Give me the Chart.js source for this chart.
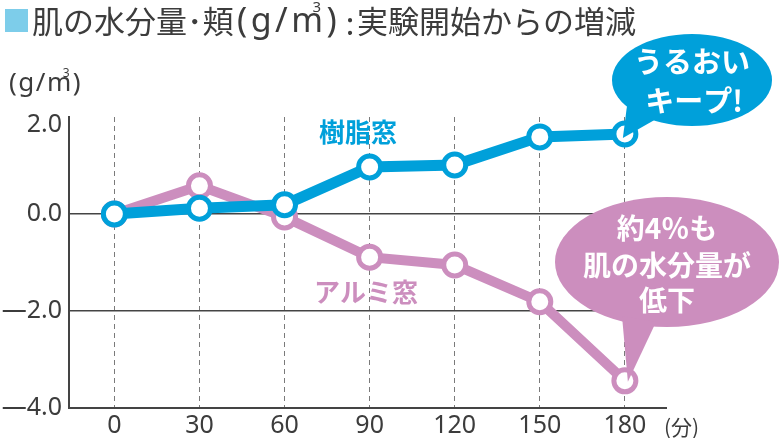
<!DOCTYPE html>
<html>
<head>
<meta charset="utf-8">
<script src="https://cdn.jsdelivr.net/npm/chart.js@4"></script>
<style>
  html, body { margin: 0; padding: 0; background: #fff; }
  canvas { display: block; }
</style>
</head>
<body>
<canvas id="chart" width="780" height="438"></canvas>
<script>
// minutes since start
const minutes = [0, 30, 60, 90, 120, 150, 180];
// change in skin moisture, g/m3
const resinWindow = [0, 0.12, 0.19, 0.97, 1.01, 1.59, 1.65];
const aluminumWindow = [0, 0.58, -0.06, -0.89, -1.05, -1.81, -3.44];
const yTicks = [2, 0, -2, -4];

const BLUE = '#00a0da';
const PINK = '#cc8ebe';
const TEXT = '#3c3c3c';
const JP = '"Noto Sans CJK JP", "Noto Sans", sans-serif';
const LATIN = '"Noto Sans", sans-serif';

// "(g/m" + small 3 over the m + ")" ; returns end x
function unit(ctx, x, y, size, spacing) {
    ctx.save();
    ctx.textAlign = 'left';
    ctx.font = size + 'px ' + LATIN;
    ctx.letterSpacing = spacing + 'px';
    ctx.fillText('(g/m', x, y);
    let cx = x + ctx.measureText('(g/m').width;
    ctx.fillText(')', cx, y);
    const end = cx + ctx.measureText(')').width;
    ctx.letterSpacing = '0px';
    const small = Math.round(size * 0.45);
    ctx.font = small + 'px ' + LATIN;
    ctx.fillText('3', cx - spacing - small * 0.7, y - size * 0.42);
    ctx.restore();
    return end;
}

function bubble(ctx, cx, cy, rx, ry, b1, b2, tip, color) {
    ctx.save();
    ctx.fillStyle = color;
    ctx.beginPath();
    ctx.ellipse(cx, cy, rx, ry, 0, 0, Math.PI * 2);
    ctx.fill();
    ctx.beginPath();
    ctx.moveTo(b1[0], b1[1]);
    ctx.lineTo(tip[0], tip[1]);
    ctx.lineTo(b2[0], b2[1]);
    ctx.closePath();
    ctx.fill();
    ctx.restore();
}

const decor = {
    id: 'decor',
    afterDraw(chart) {
        const ctx = chart.ctx;
        const xs = chart.scales.x, ys = chart.scales.y;
        ctx.save();
        ctx.textBaseline = 'middle';

        // title
        ctx.fillStyle = '#7dcdea';
        ctx.fillRect(5, 9, 23, 23);
        ctx.fillStyle = TEXT;
        ctx.font = '31px ' + JP;
        ctx.textAlign = 'left';
        ctx.fillText('肌の水分量･頬', 32, 21);
        unit(ctx, 237, 22, 34, 3.5);
        ctx.font = '31px ' + JP;
        ctx.textAlign = 'center';
        ctx.fillText(':', 350, 23);
        ctx.textAlign = 'left';
        ctx.fillText('実験開始からの増減', 357, 21);

        // y unit
        unit(ctx, 9, 84, 26, 1.5);

        // x unit
        ctx.font = '21px ' + JP;
        ctx.textAlign = 'left';
        ctx.fillText('(分)', 664, 427);

        // series labels
        ctx.font = 'bold 26px ' + JP;
        ctx.textAlign = 'center';
        ctx.fillStyle = BLUE;
        ctx.fillText('樹脂窓', 358, 132);
        ctx.fillStyle = PINK;
        ctx.fillText('アルミ窓', 366, 292);

        // bubbles, tails anchored on the last points
        const last = minutes.length - 1;
        const px = xs.getPixelForValue(minutes[last]);
        const pb = ys.getPixelForValue(resinWindow[last]);
        const pp = ys.getPixelForValue(aluminumWindow[last]);

        bubble(ctx, 692, 80, 80, 46, [628, 98], [658, 118], [px - 2, pb + 4], BLUE);
        ctx.fillStyle = '#fff';
        ctx.font = 'bold 29px ' + JP;
        ctx.fillText('うるおい', 692, 62);
        ctx.fillText('キープ!', 694, 101);

        bubble(ctx, 667, 262, 112, 65, [622, 316], [656, 322], [px + 3, pp + 1], PINK);
        ctx.fillStyle = '#fff';
        ctx.font = 'bold 28px ' + JP;
        ctx.fillText('約4％も', 667, 228);
        ctx.fillText('肌の水分量が', 667, 265);
        ctx.fillText('低下', 667, 300);
        ctx.restore();
    }
};

const fmt = v => (v < 0 ? '\u2014' + Math.abs(v).toFixed(1) : v.toFixed(1));

new Chart(document.getElementById('chart'), {
    type: 'line',
    data: {
        datasets: [
            {
                label: '樹脂窓',
                data: minutes.map((m, i) => ({ x: m, y: resinWindow[i] })),
                borderColor: BLUE,
                borderWidth: 11,
                pointRadius: 11,
                pointBorderWidth: 5,
                pointBorderColor: BLUE,
                pointBackgroundColor: '#fff',
                clip: false
            },
            {
                label: 'アルミ窓',
                data: minutes.map((m, i) => ({ x: m, y: aluminumWindow[i] })),
                borderColor: PINK,
                borderWidth: 10,
                pointRadius: 11,
                pointBorderWidth: 5,
                pointBorderColor: PINK,
                pointBackgroundColor: '#fff',
                clip: false
            }
        ]
    },
    options: {
        responsive: false,
        devicePixelRatio: 1,
        animation: false,
        layout: { padding: { top: 117, left: 0, right: 114, bottom: 0 } },
        plugins: { legend: { display: false }, tooltip: { enabled: false } },
        scales: {
            x: {
                type: 'linear',
                min: -16,
                max: 194.5,
                afterBuildTicks: s => { s.ticks = minutes.map(v => ({ value: v })); },
                afterFit: s => { s.height = 30; },
                grid: { color: '#7a7a7a', lineWidth: 1, drawTicks: false },
                border: { color: '#444', width: 2, dash: [5, 4] },
                ticks: {
                    color: TEXT,
                    font: { family: LATIN, size: 25 },
                    padding: 3,
                    maxRotation: 0
                }
            },
            y: {
                min: -4,
                max: 2,
                afterBuildTicks: s => { s.ticks = yTicks.map(v => ({ value: v })); },
                afterFit: s => { s.width = 69; },
                grid: {
                    color: c => (c.tick && (c.tick.value === 0 || c.tick.value === -2) ? '#444' : 'rgba(0,0,0,0)'),
                    lineWidth: 1.5,
                    drawTicks: false
                },
                border: { color: '#444', width: 2 },
                ticks: {
                    color: TEXT,
                    font: c => ({ family: LATIN, size: 25, lineHeight: c.tick && c.tick.value === 2 ? 0.64 : 1.2 }),
                    padding: 7,
                    // top label sits a little below its tick, as in the print
                    callback: v => (v === 2 ? ['', fmt(v)] : fmt(v))
                }
            }
        }
    },
    plugins: [decor]
});
</script>
</body>
</html>
